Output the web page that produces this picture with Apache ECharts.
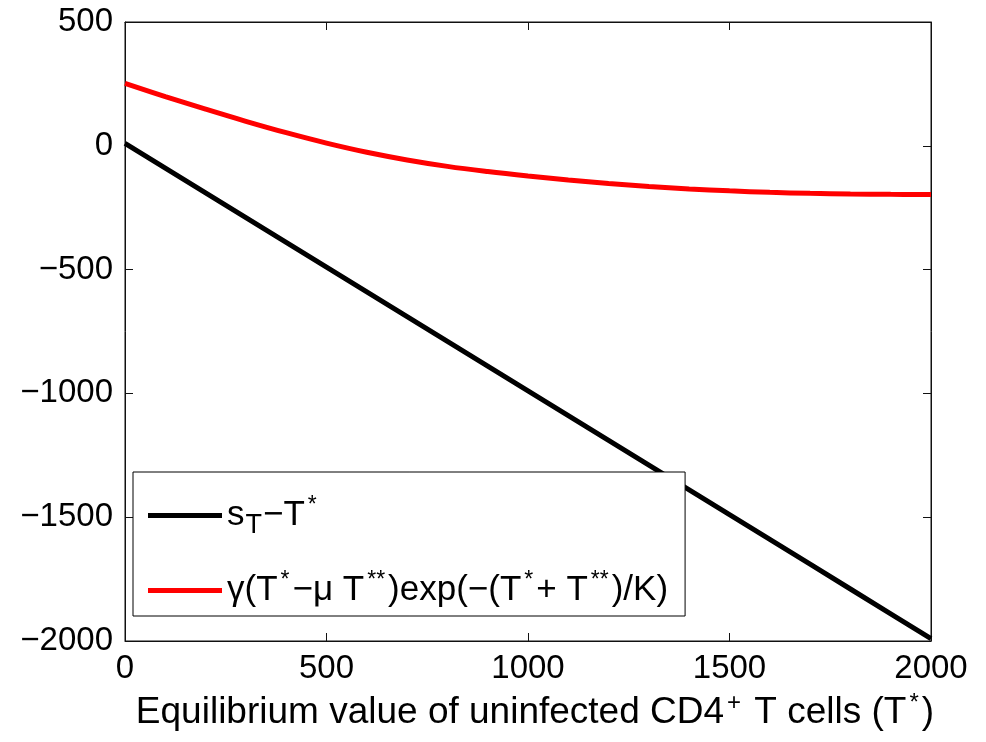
<!DOCTYPE html>
<html>
<head>
<meta charset="utf-8">
<script src="https://cdn.jsdelivr.net/npm/echarts@6/dist/echarts.min.js"></script>
<style>html,body{margin:0;padding:0;background:#fff;}#c{width:986px;height:742px;}</style>
</head>
<body>
<div id="c"></div>
<script>
const tValues = [0,100,200,300,400,500,600,700,800,900,1000,1100,1200,1300,1400,1500,1600,1700,1800,1900,2000];
const blackValues = [10,-90,-190,-290,-390,-490,-590,-690,-790,-890,-990,-1090,-1190,-1290,-1390,-1490,-1590,-1690,-1790,-1890,-1990];
const redValues = [252,199,148,99,53,11,-26,-57,-83,-104,-122,-138,-152,-164,-174,-182,-188,-192,-194.5,-196,-196.5];
const xTicks = [0,500,1000,1500,2000];
const yTicks = [-2000,-1500,-1000,-500,0,500];
const seriesNames = ['black', 'red'];

const FONT = '"Liberation Sans", Arial, sans-serif';
const chart = echarts.init(document.getElementById('c'), null, {renderer: 'canvas'});
const pair = (xs, ys) => xs.map((x, i) => [x, ys[i]]);
const fmt = v => String(v).replace('-', '\u2212');

const legendRich = {
  n: {fontSize: 35, fontFamily: FONT, color: '#000', lineHeight: 40},
  sub: {fontSize: 27, fontFamily: FONT, color: '#000', padding: [20, 1, 0, 1], lineHeight: 40},
  sup: {fontSize: 23, fontFamily: FONT, color: '#000', padding: [0, 3, 20, 3], lineHeight: 40}
};
const legendText = {
  black: '{n|s}{sub|T}{n|\u2212T}{sup|*}',
  red: '{n|\u03b3(T}{sup|*}{n|\u2212\u03bc T}{sup|**}{n|)exp(\u2212(T}{sup|*}{n|+ T}{sup|**}{n|)/K)}'
};

const axisCommon = {
  type: 'value',
  axisLine: {show: true, onZero: false, lineStyle: {color: '#111', width: 1}},
  axisTick: {show: true, inside: true, length: 8, lineStyle: {color: '#111'}},
  splitLine: {show: false}
};

const option = {
  backgroundColor: '#fff',
  animation: false,
  grid: {left: 125, right: 55, top: 22, bottom: 101, show: true, borderColor: '#111', borderWidth: 1, containLabel: false},
  legend: {
    orient: 'vertical', left: 133, top: 472,
    backgroundColor: '#fff', borderColor: '#000', borderWidth: 1,
    padding: [20, 17, 4, 15], itemGap: 30,
    icon: 'rect', itemWidth: 74, itemHeight: 5,
    data: seriesNames,
    formatter: name => legendText[name],
    textStyle: {rich: legendRich, fontSize: 35, fontFamily: FONT, color: '#000'}
  },
  xAxis: [Object.assign({}, axisCommon, {
    min: 0, max: 2000, interval: 500,
    axisLabel: {fontSize: 33, fontFamily: FONT, color: '#000', margin: 11,
      customValues: xTicks, formatter: fmt},
    name: '{n|Equilibrium value of uninfected CD4}{sup|+}{n| T cells (T}{sup|*}{n|)}',
    nameLocation: 'middle', nameGap: 52,
    nameTextStyle: {padding: [0, 0, 0, 14], rich: {
      n: {fontSize: 37, fontFamily: FONT, color: '#000', lineHeight: 40},
      sup: {fontSize: 24, fontFamily: FONT, color: '#000', padding: [0, 3, 20, 3], lineHeight: 40}
    }}
  }), Object.assign({}, axisCommon, {
    position: 'top', min: 0, max: 2000, interval: 500,
    axisLabel: {show: false}
  })],
  yAxis: [Object.assign({}, axisCommon, {
    min: -2000, max: 500, interval: 500,
    axisLabel: {fontSize: 33, fontFamily: FONT, color: '#000', margin: 12,
      customValues: yTicks, formatter: fmt}
  }), Object.assign({}, axisCommon, {
    position: 'right', min: -2000, max: 500, interval: 500,
    axisLabel: {show: false}
  })],
  series: [{
    name: 'black', type: 'line', data: pair(tValues, blackValues),
    showSymbol: false, lineStyle: {color: '#000', width: 5}, itemStyle: {color: '#000'}
  }, {
    name: 'red', type: 'line', data: pair(tValues, redValues), smooth: 0.4,
    showSymbol: false, lineStyle: {color: '#ff0000', width: 5}, itemStyle: {color: '#ff0000'}
  }]
};
chart.setOption(option);
</script>
</body>
</html>
